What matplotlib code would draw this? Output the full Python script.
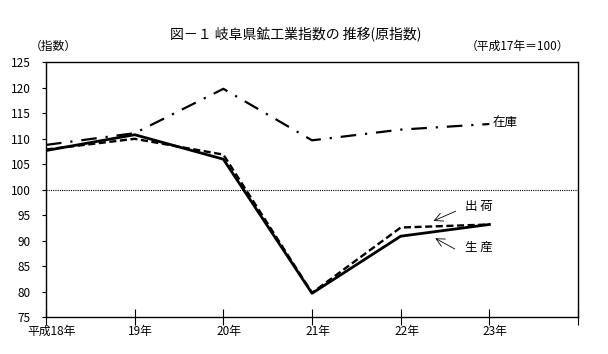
import matplotlib
matplotlib.use("Agg")
import matplotlib.pyplot as plt
import matplotlib.transforms as mtransforms

plt.rcParams['font.family'] = ['Noto Sans CJK JP', 'DejaVu Sans']

# data (平成17年=100)
years = ['平成18年', '19年', '20年', '21年', '22年', '23年', '']
seisan = [107.7, 110.8, 106.0, 79.7, 90.9, 93.2]    # 生産
shukka = [107.9, 110.0, 106.9, 79.8, 92.6, 93.2]    # 出荷
zaiko = [108.8, 111.1, 119.8, 109.7, 111.8, 112.9]  # 在庫

fig = plt.figure(figsize=(6.08, 3.54), dpi=100)
ax = fig.add_axes([0.0757, 0.1037, 0.875, 0.7203])

x = list(range(len(seisan)))
ax.plot(x, zaiko, color='black', lw=1.6, linestyle=(0, (7, 4, 1, 4)))
ax.plot(x, shukka, color='black', lw=1.7, linestyle=(0, (3, 1.5)))
ax.plot(x, seisan, color='black', lw=2.0, linestyle='-')

ax.axhline(100, color='black', lw=0.8, linestyle=(0, (1, 1)))

ax.set_xlim(0, 6)
ax.set_ylim(75, 125)
ax.set_yticks(range(75, 126, 5))
ax.set_xticks(range(7))
ax.set_xticklabels(years)
ax.tick_params(axis='x', direction='inout', length=11, width=0.8, labelsize=8.5, pad=0)
ax.tick_params(axis='y', direction='out', length=3, width=0.8, labelsize=8.5, pad=8)
# labels sit a little right of the ticks in the original
shift = mtransforms.ScaledTranslation(6 / 100, 0, fig.dpi_scale_trans)
for lab in ax.get_xticklabels():
    lab.set_transform(lab.get_transform() + shift)
for s in ax.spines.values():
    s.set_linewidth(1.0)

ax.text(5.04, 113.2, '在庫', fontsize=9, va='center', ha='left')
ax.text(4.72, 96.8, '出 荷', fontsize=9, va='center', ha='left')
ax.text(4.72, 88.8, '生 産', fontsize=9, va='center', ha='left')
arrow = dict(arrowstyle='->,head_length=0.6,head_width=0.3', color='black',
             lw=0.6, shrinkA=0, shrinkB=0)
ax.annotate('', xy=(4.37, 93.9), xytext=(4.62, 95.8), arrowprops=arrow)
ax.annotate('', xy=(4.39, 90.5), xytext=(4.61, 88.4), arrowprops=arrow)

fig.text(0.487, 0.904, '図－１ 岐阜県鉱工業指数の 推移(原指数)', fontsize=10, ha='center', va='center')
fig.text(0.049, 0.868, '（指数）', fontsize=8.5, ha='left', va='center')
fig.text(0.937, 0.868, '（平成17年＝100）', fontsize=8.5, ha='right', va='center')

fig.savefig('out.png', dpi=100, facecolor='white')
